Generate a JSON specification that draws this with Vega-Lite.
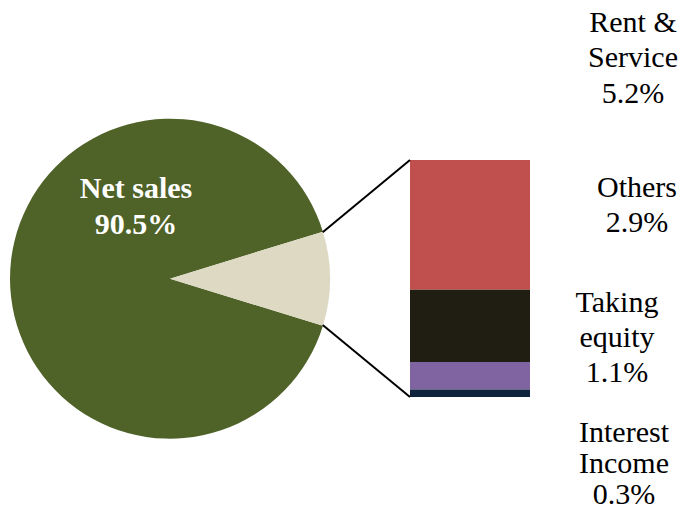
{
  "$schema": "https://vega.github.io/schema/vega-lite/v6.json",
  "width": 688,
  "height": 514,
  "padding": 0,
  "autosize": {"type": "none"},
  "background": "white",
  "config": {"view": {"stroke": null}},
  "datasets": {
    "pie": [
      {"part": "Net sales", "pct": 90.5, "label": "Net sales\n90.5%"},
      {"part": "Other income", "pct": 9.5, "label": "Other income\n9.5%"}
    ],
    "bar": [
      {"part": "Rent & Service", "pct": 5.2, "label": "Rent &\nService\n5.2%"},
      {"part": "Others", "pct": 2.9, "label": "Others\n2.9%"},
      {"part": "Taking equity", "pct": 1.1, "label": "Taking\nequity\n1.1%"},
      {"part": "Interest Income", "pct": 0.3, "label": "Interest\nIncome\n0.3%"}
    ]
  },
  "layer": [
    {
      "data": {"name": "pie"},
      "mark": {"type": "arc", "radius": 160, "stroke": null},
      "encoding": {
        "x": {"datum": 170, "type": "quantitative", "scale": {"domain": [0, 688], "nice": false, "zero": false}, "axis": null},
        "y": {"datum": 4.742, "type": "quantitative", "scale": {"domain": [-4.690, 15.913], "nice": false, "zero": false}, "axis": null},
        "theta": {"field": "pct", "type": "quantitative", "stack": true, "scale": {"range": [1.2723, 7.5555]}},
        "order": {"field": "part", "sort": "descending"},
        "color": {
          "field": "part", "type": "nominal", "legend": null,
          "scale": {
            "domain": ["Net sales", "Other income", "Rent & Service", "Others", "Taking equity", "Interest Income"],
            "range": ["#4F6228", "#DDD9C3", "#C0504D", "#201E13", "#8064A2", "#10243E"]
          }
        }
      }
    },
    {
      "data": {"name": "bar"},
      "transform": [
        {"stack": "pct", "groupby": [], "sort": [{"field": "pct", "order": "ascending"}], "as": ["lo", "hi"]}
      ],
      "mark": {"type": "rect", "stroke": null},
      "encoding": {
        "x": {"datum": 410, "type": "quantitative"},
        "x2": {"datum": 530},
        "y": {"field": "lo", "type": "quantitative"},
        "y2": {"field": "hi"},
        "color": {"field": "part", "type": "nominal", "legend": null}
      }
    },
    {
      "data": {"values": [{}]},
      "mark": {"type": "rule", "color": "black", "strokeWidth": 2},
      "encoding": {
        "x": {"datum": 322.7, "type": "quantitative"},
        "y": {"datum": 6.602, "type": "quantitative"},
        "x2": {"datum": 410},
        "y2": {"datum": 9.5}
      }
    },
    {
      "data": {"values": [{}]},
      "mark": {"type": "rule", "color": "black", "strokeWidth": 2},
      "encoding": {
        "x": {"datum": 322.7, "type": "quantitative"},
        "y": {"datum": 2.886, "type": "quantitative"},
        "x2": {"datum": 410},
        "y2": {"datum": 0}
      }
    },
    {
      "data": {"name": "pie"},
      "transform": [{"filter": "datum.part === 'Net sales'"}],
      "mark": {"type": "text", "font": "Liberation Serif", "fontSize": 30, "fontWeight": "bold", "color": "white", "align": "center", "baseline": "alphabetic", "lineBreak": "\n", "lineHeight": 36},
      "encoding": {
        "x": {"datum": 136, "type": "quantitative"},
        "y": {"datum": 7.977, "type": "quantitative"},
        "text": {"field": "label"}
      }
    },
    {
      "data": {"name": "bar"},
      "transform": [{"filter": "datum.part === 'Rent & Service'"}],
      "mark": {"type": "text", "font": "Liberation Serif", "fontSize": 30, "color": "black", "align": "center", "baseline": "alphabetic", "lineBreak": "\n", "lineHeight": 35.5},
      "encoding": {
        "x": {"datum": 633, "type": "quantitative"},
        "y": {"datum": 14.643, "type": "quantitative"},
        "text": {"field": "label"}
      }
    },
    {
      "data": {"name": "bar"},
      "transform": [{"filter": "datum.part === 'Others'"}],
      "mark": {"type": "text", "font": "Liberation Serif", "fontSize": 30, "color": "black", "align": "center", "baseline": "alphabetic", "lineBreak": "\n", "lineHeight": 35},
      "encoding": {
        "x": {"datum": 637, "type": "quantitative"},
        "y": {"datum": 8.005, "type": "quantitative"},
        "text": {"field": "label"}
      }
    },
    {
      "data": {"name": "bar"},
      "transform": [{"filter": "datum.part === 'Taking equity'"}],
      "mark": {"type": "text", "font": "Liberation Serif", "fontSize": 30, "color": "black", "align": "center", "baseline": "alphabetic", "lineBreak": "\n", "lineHeight": 35},
      "encoding": {
        "x": {"datum": 617, "type": "quantitative"},
        "y": {"datum": 3.419, "type": "quantitative"},
        "text": {"field": "label"}
      }
    },
    {
      "data": {"name": "bar"},
      "transform": [{"filter": "datum.part === 'Interest Income'"}],
      "mark": {"type": "text", "font": "Liberation Serif", "fontSize": 30, "color": "black", "align": "center", "baseline": "alphabetic", "lineBreak": "\n", "lineHeight": 31},
      "encoding": {
        "x": {"datum": 624, "type": "quantitative"},
        "y": {"datum": -1.804, "type": "quantitative"},
        "text": {"field": "label"}
      }
    }
  ]
}
